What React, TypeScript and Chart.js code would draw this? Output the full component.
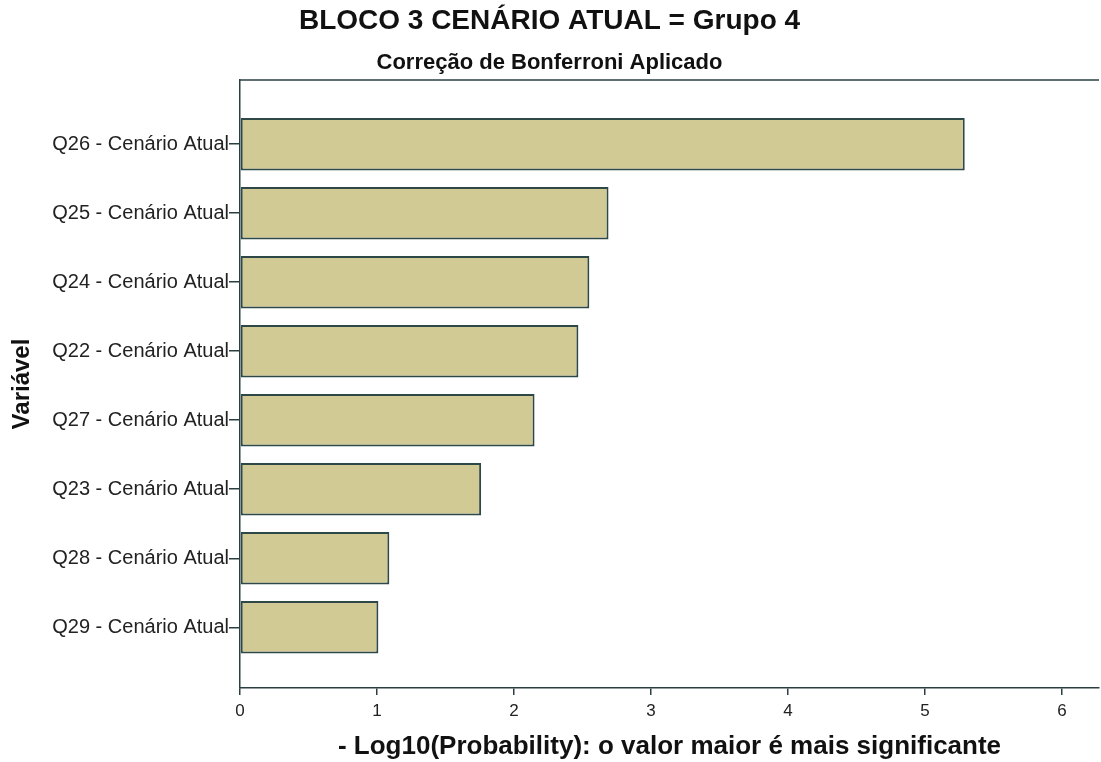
import React, { useEffect, useRef } from "react";
import { Chart, registerables } from "chart.js";

Chart.register(...registerables);

const categories: string[] = [
  "Q26 - Cenário Atual",
  "Q25 - Cenário Atual",
  "Q24 - Cenário Atual",
  "Q22 - Cenário Atual",
  "Q27 - Cenário Atual",
  "Q23 - Cenário Atual",
  "Q28 - Cenário Atual",
  "Q29 - Cenário Atual",
];
const values: number[] = [5.29, 2.69, 2.55, 2.47, 2.15, 1.76, 1.09, 1.01];
const xTicks: number[] = [0, 1, 2, 3, 4, 5, 6];

const titleText = "BLOCO 3 CENÁRIO ATUAL = Grupo 4";
const subtitleText = "Correção de Bonferroni Aplicado";
const xTitle = "- Log10(Probability): o valor maior é mais significante";
const yTitle = "Variável";

const FONT = "'Liberation Sans', Arial, sans-serif";
const AXIS = "#2b3f40";

const frameTop = {
  id: "frameTop",
  afterDraw(chart: any) {
    const { ctx, chartArea } = chart;
    ctx.save();
    ctx.strokeStyle = AXIS;
    ctx.lineWidth = 1.5;
    ctx.beginPath();
    ctx.moveTo(chartArea.left, chartArea.top);
    ctx.lineTo(chartArea.right, chartArea.top);
    ctx.stroke();
    ctx.restore();
  },
};

export default function App() {
  const ref = useRef<HTMLCanvasElement | null>(null);
  useEffect(() => {
    document.body.style.margin = "0";
    const canvas = ref.current;
    if (!canvas) return;
    const chart = new Chart(canvas, {
      type: "bar",
      data: {
        datasets: [
          {
            data: values.map((v, i) => ({ x: v, y: i })),
            backgroundColor: "#d1ca94",
            borderColor: "#2e4848",
            borderWidth: 2,
            borderSkipped: false,
            categoryPercentage: 1,
            barPercentage: 0.76,
          },
        ],
      },
      options: {
        indexAxis: "y",
        animation: false,
        responsive: false,
        devicePixelRatio: 1,
        layout: { padding: { left: 0, right: 2, top: 0, bottom: 0 } },
        plugins: {
          legend: { display: false },
          tooltip: { enabled: false },
          title: {
            display: true,
            text: titleText,
            color: "#111",
            font: { family: FONT, size: 28, weight: "bold" },
            padding: { top: 4, bottom: 12 },
          },
          subtitle: {
            display: true,
            text: subtitleText,
            color: "#111",
            font: { family: FONT, size: 22, weight: "bold" },
            padding: { top: 0, bottom: 4 },
          },
        },
        scales: {
          x: {
            type: "linear",
            min: 0,
            max: 6.27,
            afterBuildTicks: (scale: any) => {
              scale.ticks = xTicks.map((v) => ({ value: v }));
            },
            afterFit: (scale: any) => {
              scale.height = 74;
            },
            grid: {
              drawOnChartArea: false,
              drawTicks: true,
              tickLength: 7,
              color: AXIS,
              lineWidth: 1.5,
            },
            border: { display: true, color: AXIS, width: 1.5 },
            ticks: {
              color: "#222",
              font: { family: FONT, size: 17 },
              padding: 6,
            },
            title: {
              display: true,
              text: xTitle,
              color: "#111",
              font: { family: FONT, size: 26, weight: "bold" },
              padding: { top: 0, bottom: 0 },
            },
          },
          y: {
            type: "linear",
            reverse: true,
            offset: false,
            min: -0.93,
            max: 7.88,
            afterBuildTicks: (scale: any) => {
              scale.ticks = categories.map((_, i) => ({ value: i }));
            },
            afterFit: (scale: any) => {
              scale.width = 240;
            },
            grid: {
              offset: false,
              drawOnChartArea: false,
              drawTicks: true,
              tickLength: 11,
              color: AXIS,
              lineWidth: 1.5,
            },
            border: { display: true, color: AXIS, width: 1.5 },
            ticks: {
              color: "#222",
              font: { family: FONT, size: 20 },
              padding: 0,
              callback: (v: any) => categories[Math.round(Number(v))] ?? "",
            },
            title: {
              display: true,
              text: yTitle,
              color: "#111",
              font: { family: FONT, size: 24, weight: "bold" },
              padding: { top: 8, bottom: 0 },
            },
          },
        },
      },
      plugins: [frameTop],
    } as any);
    return () => chart.destroy();
  }, []);
  return (
    <div style={{ width: 1101, height: 762, background: "#fff" }}>
      <canvas ref={ref} width={1101} height={762} style={{ display: "block" }} />
    </div>
  );
}
